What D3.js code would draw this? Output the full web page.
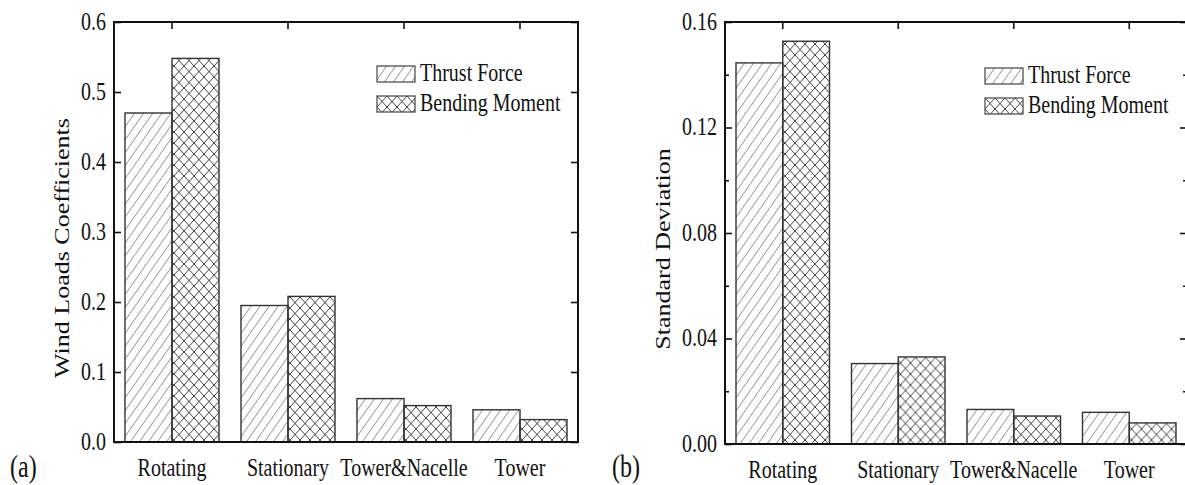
<!DOCTYPE html>
<html lang="en">
<head>
<meta charset="utf-8"/>
<title>Wind loads</title>
<script src="https://d3js.org/d3.v7.min.js"></script>
<style>
  body { margin: 0; background: #fff; }
  svg text { font-family: "Liberation Serif", "Times New Roman", Times, serif !important; fill: #111; }
  .axis .domain { display: none; }
  .axis line { stroke: #111; stroke-width: 1.6px; }
</style>
</head>
<body>
<div id="chart"></div>
<script>
// data
var categories = ["Rotating", "Stationary", "Tower&Nacelle", "Tower"];
var seriesNames = ["Thrust Force", "Bending Moment"];

var thrustCoef  = [0.470, 0.195, 0.062, 0.046];
var bendingCoef = [0.548, 0.208, 0.052, 0.032];
var coefTicks   = [0, 0.1, 0.2, 0.3, 0.4, 0.5, 0.6];

var thrustStd  = [0.1445, 0.0305, 0.0131, 0.0120];
var bendingStd = [0.1527, 0.0330, 0.0106, 0.0080];
var stdTicks      = [0, 0.04, 0.08, 0.12, 0.16];
var stdMinorTicks = [0.02, 0.06, 0.10, 0.14];

var W = 1185, H = 485;
var FONT = "'Liberation Serif', 'Times New Roman', Times, serif";

var svg = d3.select("#chart").append("svg")
    .attr("width", W)
    .attr("height", H)
    .attr("font-family", FONT);

// hatch patterns
var defs = svg.append("defs");
defs.append("pattern")
    .attr("id", "diag")
    .attr("patternUnits", "userSpaceOnUse")
    .attr("width", 7.4).attr("height", 10)
    .attr("patternTransform", "rotate(35)")
  .append("line")
    .attr("x1", 0).attr("y1", 0).attr("x2", 0).attr("y2", 10)
    .attr("stroke", "#444").attr("stroke-width", 1);

var cross = defs.append("pattern")
    .attr("id", "cross")
    .attr("patternUnits", "userSpaceOnUse")
    .attr("width", 10).attr("height", 11);
cross.append("path")
    .attr("d", "M0,0L10,11M0,11L10,0")
    .attr("stroke", "#444").attr("stroke-width", 1)
    .attr("fill", "none");

var fills = ["url(#diag)", "url(#cross)"];
var SY = 1.3; // the figure text looks vertically stretched

function panel(o) {
  var g = svg.append("g");
  var x0 = d3.scaleBand().domain(categories).range([o.left, o.right]);
  var x1 = d3.scaleBand().domain(seriesNames).range([11, x0.bandwidth() - 11]);
  var y = d3.scaleLinear().domain(o.domain).range([o.bottom, o.top]);

  var rows = categories.map(function(c, i) {
    return { cat: c, vals: [o.series[0][i], o.series[1][i]] };
  });

  // bars
  g.append("g").selectAll("g")
    .data(rows)
    .enter().append("g")
      .attr("transform", function(d) { return "translate(" + x0(d.cat) + ",0)"; })
    .selectAll("rect")
    .data(function(d) { return d.vals.map(function(v, j) { return { key: seriesNames[j], v: v, j: j }; }); })
    .enter().append("rect")
      .attr("x", function(d) { return x1(d.key); })
      .attr("width", x1.bandwidth())
      .attr("y", function(d) { return y(d.v); })
      .attr("height", function(d) { return y(0) - y(d.v); })
      .attr("fill", function(d) { return fills[d.j]; })
      .attr("stroke", "#333")
      .attr("stroke-width", 1.4);

  // left axis
  var la = g.append("g").attr("class", "axis")
    .attr("transform", "translate(" + o.left + ",0)")
    .call(d3.axisLeft(y).tickValues(o.ticks).tickSizeInner(-7).tickSizeOuter(0)
      .tickPadding(8).tickFormat(d3.format(o.fmt)));
  la.selectAll("text").attr("font-size", 20).attr("dy", "0.28em")
    .attr("transform", "scale(1," + SY + ")");

  // right axis (no labels)
  g.append("g").attr("class", "axis")
    .attr("transform", "translate(" + o.right + ",0)")
    .call(d3.axisRight(y).tickValues(o.ticks).tickSizeInner(-7).tickSizeOuter(0).tickFormat(""));

  if (o.minor) {
    g.append("g").attr("class", "axis")
      .attr("transform", "translate(" + o.left + ",0)")
      .call(d3.axisLeft(y).tickValues(o.minor).tickSizeInner(-4).tickSizeOuter(0).tickFormat(""));
    g.append("g").attr("class", "axis")
      .attr("transform", "translate(" + o.right + ",0)")
      .call(d3.axisRight(y).tickValues(o.minor).tickSizeInner(-4).tickSizeOuter(0).tickFormat(""));
  }

  // top ticks at category centres
  g.append("g").attr("class", "axis")
    .attr("transform", "translate(0," + o.top + ")")
    .call(d3.axisTop(x0).tickSizeInner(-7).tickSizeOuter(0).tickFormat(""));

  // bottom labels
  var ba = g.append("g").attr("class", "axis")
    .attr("transform", "translate(0," + o.bottom + ")")
    .call(d3.axisBottom(x0).tickSizeInner(0).tickSizeOuter(0).tickPadding(12));
  ba.selectAll("text").attr("font-size", 20).attr("transform", "scale(1," + SY + ")");

  // frame
  g.append("rect")
    .attr("x", o.left).attr("y", o.top)
    .attr("width", o.right - o.left).attr("height", o.bottom - o.top)
    .attr("fill", "none").attr("stroke", "#111").attr("stroke-width", 2);

  // y title
  g.append("text")
    .attr("transform", "translate(" + o.titleX + "," + o.titleY + ") rotate(-90) scale(1.3,1.05)")
    .attr("text-anchor", "middle")
    .attr("font-size", 20)
    .text(o.title);

  // panel letter
  g.append("text")
    .attr("transform", "translate(" + o.letterX + ",477) scale(1," + SY + ")")
    .attr("font-size", 24)
    .text(o.letter);

  // legend
  var lg = g.append("g")
    .attr("transform", "translate(" + o.legX + "," + o.legY + ")")
    .selectAll("g")
    .data(seriesNames)
    .enter().append("g")
      .attr("transform", function(d, i) { return "translate(0," + i * 30 + ")"; });
  lg.append("rect")
    .attr("width", 38).attr("height", 16)
    .attr("fill", function(d, i) { return fills[i]; })
    .attr("stroke", "#444").attr("stroke-width", 1.2);
  lg.append("text")
    .attr("transform", "translate(43,15) scale(1," + SY + ")")
    .attr("font-size", 20)
    .text(function(d) { return d; });
}

panel({
  left: 114, right: 578, top: 22, bottom: 442,
  domain: [0, 0.6], ticks: coefTicks, fmt: ".1f",
  series: [thrustCoef, bendingCoef],
  title: "Wind Loads Coefficients", titleX: 69, titleY: 248,
  letter: "(a)", letterX: 10,
  legX: 377, legY: 66
});

panel({
  left: 725, right: 1187, top: 22, bottom: 444,
  domain: [0, 0.16], ticks: stdTicks, minor: stdMinorTicks, fmt: ".2f",
  series: [thrustStd, bendingStd],
  title: "Standard Deviation", titleX: 670, titleY: 249,
  letter: "(b)", letterX: 612,
  legX: 985, legY: 68
});
</script>
</body>
</html>
